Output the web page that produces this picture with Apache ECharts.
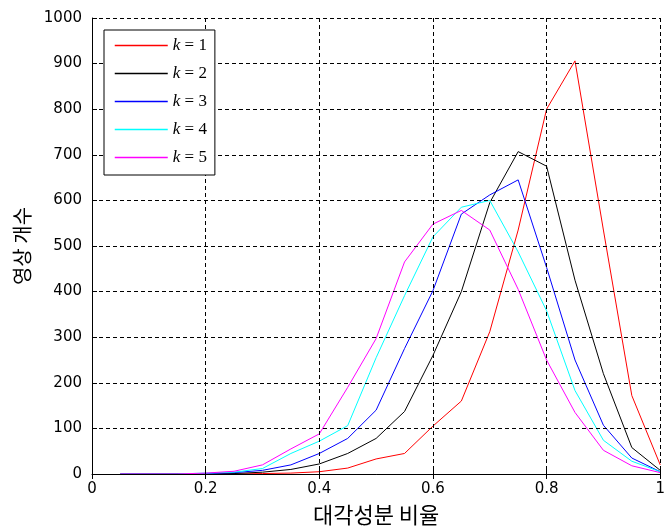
<!DOCTYPE html>
<html>
<head>
<meta charset="utf-8">
<script src="https://cdn.jsdelivr.net/npm/echarts@6/dist/echarts.min.js"></script>
<style>html,body{margin:0;padding:0;background:#fff}#c{width:668px;height:531px}</style>
</head>
<body>
<div id="c"></div>
<script>
var xs = [0.05,0.1,0.15,0.2,0.25,0.3,0.35,0.4,0.45,0.5,0.55,0.6,0.65,0.7,0.75,0.8,0.85,0.9,0.95,1.0];
var k1 = [0,0,0,0,0,1,2,5,13,33,45,105,160,312,535,800,906,535,172,20];
var k2 = [0,0,0,0,1,4,10,22,45,78,137,260,400,595,707,675,425,220,58,8];
var k3 = [0,0,0,1,3,8,20,45,78,140,275,402,570,612,645,453,250,107,35,5];
var k4 = [0,0,0,2,4,12,45,72,106,255,391,520,585,600,487,358,183,74,28,5];
var k5 = [0,0,0,2,6,20,55,88,190,297,465,548,578,535,405,250,135,52,18,3];
var names = ['k = 1','k = 2','k = 3','k = 4','k = 5'];
var colors = ['#ff0000','#000000','#0000ff','#00ffff','#ff00ff'];
var yTicks = {min:0, max:1000, interval:100};
var xTicks = {min:0, max:1, interval:0.2};

function pairs(v){ return xs.map(function(x,i){ return [x, v[i]]; }); }
var all = [k1,k2,k3,k4,k5];
var series = all.map(function(v,i){
  return {
    name: names[i], type:'line', data: pairs(v), symbol:'none',
    lineStyle:{color:colors[i], width:1}, itemStyle:{color:colors[i]},
    animation:false, z: 3
  };
});
var dash = {show:true, lineStyle:{color:'#000', type:[4,3], width:1}};
var lbl = {color:'#000', fontFamily:'DejaVu Sans', fontSize:15};
var chart = echarts.init(document.getElementById('c'));
chart.setOption({
  animation:false,
  grid:{left:92, right:0, top:18, bottom:55},
  legend:{
    orient:'vertical', left:104, top:30, z:20,
    padding:[7,8,9,10], itemGap:11, itemWidth:53, itemHeight:14,
    backgroundColor:'#fff', borderColor:'#000', borderWidth:1,
    data:names,
    itemStyle:{opacity:0},
    lineStyle:{width:1.5},
    formatter:function(n){ return '{k|k}{n| = ' + n.slice(4) + '}'; },
    textStyle:{color:'#000', rich:{
      k:{fontStyle:'italic', fontFamily:'Liberation Serif', fontSize:17, color:'#000'},
      n:{fontFamily:'Liberation Serif', fontSize:17, color:'#000'}
    }}
  },
  xAxis:[{
    type:'value', min:xTicks.min, max:xTicks.max, interval:xTicks.interval,
    name:'대각성분 비율', nameLocation:'middle', nameGap:30,
    nameTextStyle:{fontFamily:'Noto Sans CJK KR', fontSize:22, color:'#000'},
    axisLine:{show:true, onZero:false, lineStyle:{color:'#000', width:1}},
    axisTick:{show:true, inside:true, length:5, lineStyle:{color:'#000'}},
    axisLabel:Object.assign({margin:8}, lbl),
    splitLine:dash, z:5
  },{
    type:'value', position:'top', min:xTicks.min, max:xTicks.max, interval:xTicks.interval,
    axisLine:{show:false}, axisLabel:{show:false}, splitLine:{show:false},
    axisTick:{show:true, inside:true, length:5, lineStyle:{color:'#000'}}
  }],
  yAxis:[{
    type:'value', min:yTicks.min, max:yTicks.max, interval:yTicks.interval,
    name:'영상 개수', nameLocation:'middle', nameGap:60,
    nameTextStyle:{fontFamily:'Noto Sans CJK KR', fontSize:20, color:'#000'},
    axisLine:{show:true, lineStyle:{color:'#000', width:1}},
    axisTick:{show:true, inside:true, length:5, lineStyle:{color:'#000'}},
    axisLabel:Object.assign({margin:10, formatter:function(v){ return String(v); }}, lbl),
    splitLine:dash, z:5
  }],
  series:series
});
</script>
</body>
</html>
